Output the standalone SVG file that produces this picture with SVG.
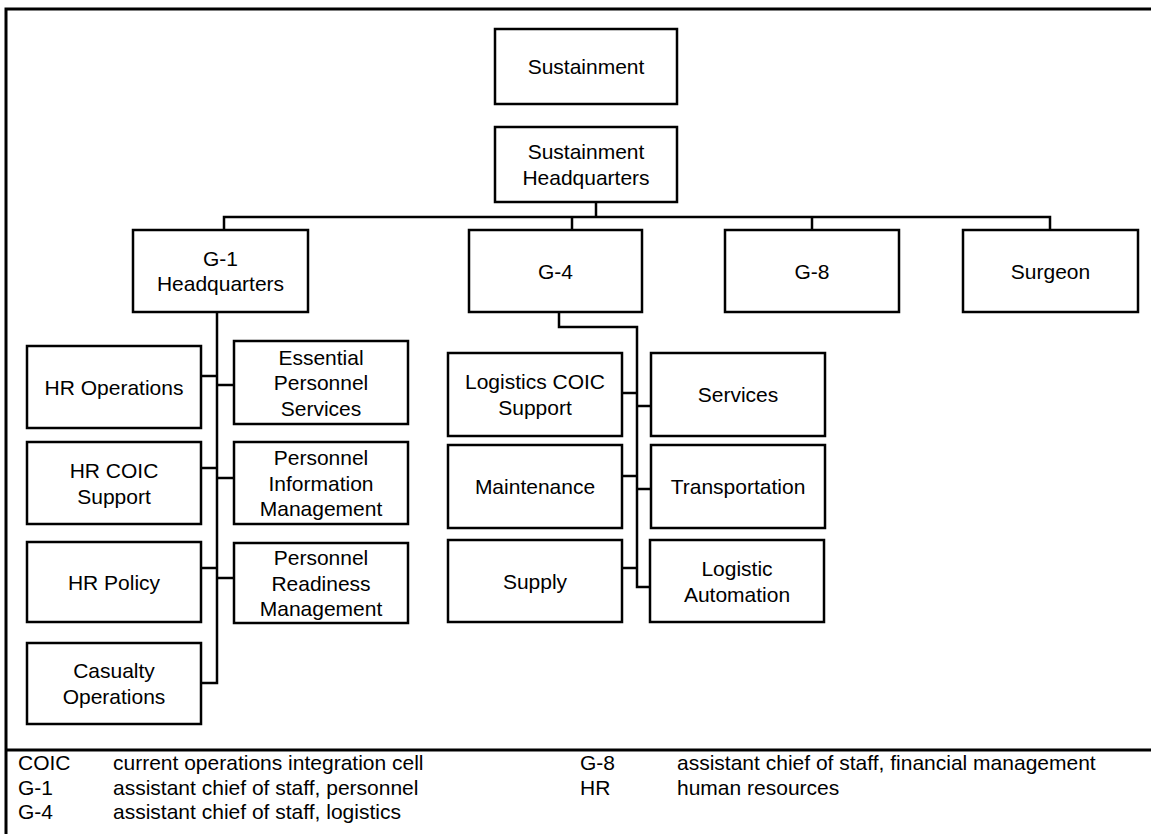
<svg xmlns="http://www.w3.org/2000/svg" width="1151" height="834" viewBox="0 0 1151 834">
  <style>
    .box { fill: #ffffff; stroke: #000000; stroke-width: 2.5; }
    .lbl { font-family: "Liberation Sans", Arial, sans-serif; font-size: 21px; fill: #000000; text-anchor: middle; }
    .leg { font-family: "Liberation Sans", Arial, sans-serif; font-size: 21px; fill: #000000; }
    .wire { fill: none; stroke: #000000; stroke-width: 2.5; }
    .frame { fill: none; stroke: #000000; stroke-width: 3; }
  </style>
  <rect x="0" y="0" width="1151" height="834" fill="#ffffff"/>

  <!-- outer frame and legend divider -->
  <g id="frame">
    <path class="frame" d="M6 840 V9 H1160"/>
    <line class="frame" x1="6" y1="750" x2="1160" y2="750"/>
  </g>

  <!-- connectors -->
  <g id="connectors">
    <!-- headquarters to staff sections -->
    <path class="wire" d="M596 202 V217"/>
    <path class="wire" d="M224 230 V217 H1050 V230"/>
    <path class="wire" d="M572 217 V230"/>
    <path class="wire" d="M812 217 V230"/>
    <!-- G-1 branch -->
    <path class="wire" d="M217 312 V683 H201"/>
    <path class="wire" d="M201 376 H217"/>
    <path class="wire" d="M201 468 H217"/>
    <path class="wire" d="M201 568 H217"/>
    <path class="wire" d="M217 385 H234"/>
    <path class="wire" d="M217 478 H234"/>
    <path class="wire" d="M217 578 H234"/>
    <!-- G-4 branch -->
    <path class="wire" d="M559 312 V327 H637 V587 H650"/>
    <path class="wire" d="M622 393 H637"/>
    <path class="wire" d="M622 476 H637"/>
    <path class="wire" d="M622 568 H637"/>
    <path class="wire" d="M637 406 H651"/>
    <path class="wire" d="M637 489 H651"/>
  </g>

  <g id="sustainment">
    <rect class="box" x="495" y="29" width="182" height="75"/>
    <text class="lbl" x="586" y="74">Sustainment</text>
  </g>
  <g id="sustainment-hq">
    <rect class="box" x="495" y="127" width="182" height="75"/>
    <text class="lbl" x="586" y="159">Sustainment</text>
    <text class="lbl" x="586" y="185">Headquarters</text>
  </g>

  <g id="g1">
    <rect class="box" x="133" y="230" width="175" height="82"/>
    <text class="lbl" x="220.5" y="265.5">G-1</text>
    <text class="lbl" x="220.5" y="291">Headquarters</text>
  </g>
  <g id="g4">
    <rect class="box" x="469" y="230" width="173" height="82"/>
    <text class="lbl" x="555.5" y="278.5">G-4</text>
  </g>
  <g id="g8">
    <rect class="box" x="725" y="230" width="174" height="82"/>
    <text class="lbl" x="812" y="278.5">G-8</text>
  </g>
  <g id="surgeon">
    <rect class="box" x="963" y="230" width="175" height="82"/>
    <text class="lbl" x="1050.5" y="278.5">Surgeon</text>
  </g>

  <!-- G-1 sections -->
  <g id="hr-operations">
    <rect class="box" x="27" y="346" width="174" height="82"/>
    <text class="lbl" x="114" y="394.5">HR Operations</text>
  </g>
  <g id="essential-personnel-services">
    <rect class="box" x="234" y="341" width="174" height="83"/>
    <text class="lbl" x="321" y="364.5">Essential</text>
    <text class="lbl" x="321" y="390">Personnel</text>
    <text class="lbl" x="321" y="415.5">Services</text>
  </g>
  <g id="hr-coic-support">
    <rect class="box" x="27" y="442" width="174" height="82"/>
    <text class="lbl" x="114" y="478">HR COIC</text>
    <text class="lbl" x="114" y="503.5">Support</text>
  </g>
  <g id="personnel-information-management">
    <rect class="box" x="234" y="442" width="174" height="82"/>
    <text class="lbl" x="321" y="465">Personnel</text>
    <text class="lbl" x="321" y="490.5">Information</text>
    <text class="lbl" x="321" y="516">Management</text>
  </g>
  <g id="hr-policy">
    <rect class="box" x="27" y="542" width="174" height="80"/>
    <text class="lbl" x="114" y="589.5">HR Policy</text>
  </g>
  <g id="personnel-readiness-management">
    <rect class="box" x="234" y="543" width="174" height="80"/>
    <text class="lbl" x="321" y="565">Personnel</text>
    <text class="lbl" x="321" y="590.5">Readiness</text>
    <text class="lbl" x="321" y="616">Management</text>
  </g>
  <g id="casualty-operations">
    <rect class="box" x="27" y="643" width="174" height="81"/>
    <text class="lbl" x="114" y="678">Casualty</text>
    <text class="lbl" x="114" y="703.5">Operations</text>
  </g>

  <!-- G-4 sections -->
  <g id="logistics-coic-support">
    <rect class="box" x="448" y="353" width="174" height="83"/>
    <text class="lbl" x="535" y="389">Logistics COIC</text>
    <text class="lbl" x="535" y="414.5">Support</text>
  </g>
  <g id="services">
    <rect class="box" x="651" y="353" width="174" height="83"/>
    <text class="lbl" x="738" y="402">Services</text>
  </g>
  <g id="maintenance">
    <rect class="box" x="448" y="445" width="174" height="83"/>
    <text class="lbl" x="535" y="494">Maintenance</text>
  </g>
  <g id="transportation">
    <rect class="box" x="651" y="445" width="174" height="83"/>
    <text class="lbl" x="738" y="494">Transportation</text>
  </g>
  <g id="supply">
    <rect class="box" x="448" y="540" width="174" height="82"/>
    <text class="lbl" x="535" y="588.5">Supply</text>
  </g>
  <g id="logistic-automation">
    <rect class="box" x="650" y="540" width="174" height="82"/>
    <text class="lbl" x="737" y="576">Logistic</text>
    <text class="lbl" x="737" y="601.5">Automation</text>
  </g>

  <!-- abbreviations -->
  <g id="legend">
    <text class="leg" x="18" y="770">COIC</text>
    <text class="leg" x="113" y="770">current operations integration cell</text>
    <text class="leg" x="18" y="794.5">G-1</text>
    <text class="leg" x="113" y="794.5">assistant chief of staff, personnel</text>
    <text class="leg" x="18" y="819">G-4</text>
    <text class="leg" x="113" y="819">assistant chief of staff, logistics</text>
    <text class="leg" x="580" y="770">G-8</text>
    <text class="leg" x="677" y="770">assistant chief of staff, financial management</text>
    <text class="leg" x="580" y="794.5">HR</text>
    <text class="leg" x="677" y="794.5">human resources</text>
  </g>
</svg>
